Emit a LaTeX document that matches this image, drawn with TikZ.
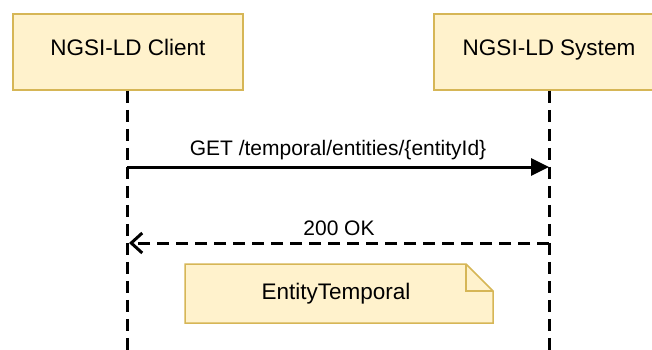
\documentclass[tikz,border=0pt]{standalone}
\usepackage{fontspec}
\setmainfont{Liberation Sans}
\usetikzlibrary{arrows.meta}
\definecolor{boxfill}{HTML}{FFF2CC}
\definecolor{boxdraw}{HTML}{D6B656}
\begin{document}
\begin{tikzpicture}[x=1pt,y=-1pt,
  actor/.style={draw=boxdraw,fill=boxfill,line width=1.5pt,minimum height=76pt,minimum width=230pt,inner sep=0pt,font=\fontsize{22.5}{26}\selectfont,text height=0.8em,text depth=0pt},
  life/.style={line width=3pt,dash pattern=on 12pt off 7pt},
  msg/.style={line width=3pt},
  lbl/.style={font=\fontsize{21}{24}\selectfont,inner sep=0pt}]
\useasboundingbox (0,0) rectangle (652,350);
\node[actor] (client) at (128,52) {NGSI-LD Client};
\node[actor] (system) at (549,52) {NGSI-LD System};
\coordinate (cbot) at (127,352);
\coordinate (sbot) at (549,352);
\draw[life] (client.south -| cbot) -- (cbot);
\draw[life] (system.south -| sbot) -- (sbot);
\coordinate (a1s) at (127,167);
\coordinate (a1e) at (549,167);
\draw[msg,-{Triangle[length=18pt,width=17pt]}] (a1s) -- (a1e)
  node[lbl,midway,above=6pt] (l1) {GET /temporal/entities/\{entityId\}};
\coordinate (a2s) at (549,243);
\coordinate (a2e) at (129,243);
\draw[msg,dash pattern=on 12pt off 7pt,-{Straight Barb[length=11pt,width=20pt,line width=3pt]}] (a2s) -- (a2e)
  node[lbl,midway,above=6pt] (l2) {200 OK};
\path[draw=boxdraw,fill=boxfill,line width=1.5pt] (185,264) -- (466,264) -- (493,291) -- (493,323) -- (185,323) -- cycle;
\draw[boxdraw,line width=1.5pt] (466,264) -- (466,291) -- (493,291);
\node[lbl,font=\fontsize{22.5}{26}\selectfont] (note) at (336,294) {EntityTemporal};
\end{tikzpicture}
\end{document}
